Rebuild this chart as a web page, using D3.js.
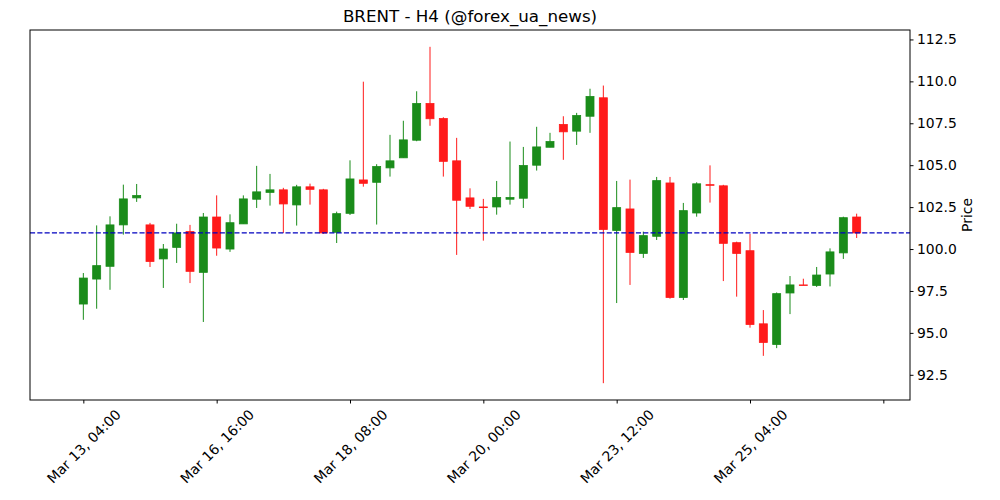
<!DOCTYPE html>
<html>
<head>
<meta charset="utf-8">
<script src="https://cdn.jsdelivr.net/npm/d3@7"></script>
<style>
  body { margin: 0; background: #fff; }
  text { font-family: "DejaVu Sans", sans-serif; }
</style>
</head>
<body>
<script>
// 4H candles, index based x axis
const opens = [96.72, 98.21, 98.97, 101.44, 103.05, 101.44, 99.41, 100.1, 101.04, 98.61,
  101.91, 100.0, 101.5, 102.97, 103.38, 103.53, 102.63, 103.71, 103.53, 101.0,
  102.13, 104.12, 103.98, 104.84, 105.44, 106.49, 108.68, 107.78, 105.26, 103.05,
  102.51, 102.51, 102.97, 103.03, 105.0, 106.07, 107.43, 107.03, 107.92, 109.02,
  101.11, 102.39, 99.74, 100.76, 103.94, 97.11, 102.15, 103.84, 103.77, 100.38,
  99.9, 95.54, 94.31, 97.38, 97.86, 97.83, 98.51, 99.77, 101.91];
const highs = [98.57, 101.41, 101.95, 103.84, 103.88, 101.56, 100.3, 101.51, 101.44, 102.15,
  103.2, 102.07, 103.2, 104.96, 104.48, 103.65, 103.83, 103.9, 103.59, 102.23,
  105.29, 109.98, 105.06, 106.81, 107.65, 109.41, 112.06, 107.86, 106.63, 103.62,
  102.99, 104.06, 106.41, 106.09, 107.29, 106.93, 107.92, 108.12, 109.56, 109.75,
  104.06, 104.14, 101.04, 104.3, 104.3, 102.75, 103.98, 104.99, 103.83, 100.44,
  100.9, 96.36, 97.41, 98.39, 98.23, 98.93, 100.04, 101.93, 102.11];
const lows = [95.78, 96.44, 97.57, 100.86, 102.81, 98.93, 97.68, 99.17, 97.97, 95.65,
  99.6, 99.83, 101.5, 102.45, 102.59, 100.96, 101.4, 102.65, 100.9, 100.36,
  102.03, 103.72, 101.46, 104.32, 105.44, 106.43, 107.35, 104.32, 99.65, 102.39,
  100.5, 102.05, 102.65, 102.45, 104.68, 106.07, 105.32, 106.21, 106.93, 92.0,
  96.78, 97.86, 99.47, 100.54, 97.04, 96.96, 101.93, 102.77, 98.09, 97.16,
  95.31, 93.63, 94.09, 96.12, 97.84, 97.74, 97.77, 99.41, 100.66];
const closes = [98.27, 99.01, 101.44, 102.99, 103.19, 99.26, 100.0, 100.96, 98.67, 101.91,
  100.06, 101.57, 102.99, 103.41, 103.53, 102.69, 103.71, 103.56, 100.96, 102.11,
  104.18, 103.92, 104.92, 105.26, 106.51, 108.68, 107.77, 105.23, 102.91, 102.55,
  102.47, 103.07, 103.07, 104.98, 106.09, 106.41, 106.99, 107.96, 109.1, 101.17,
  102.47, 99.8, 100.8, 104.08, 97.11, 102.29, 103.89, 103.8, 100.34, 99.74,
  95.5, 94.43, 97.34, 97.86, 97.84, 98.45, 99.83, 101.87, 100.96];

const tickPos = [0, 10, 20, 30, 40, 50, 60];
const tickLabels = ["Mar 13, 04:00", "Mar 16, 16:00", "Mar 18, 08:00", "Mar 20, 00:00",
  "Mar 23, 12:00", "Mar 25, 04:00", ""];
const yTicks = [92.5, 95.0, 97.5, 100.0, 102.5, 105.0, 107.5, 110.0, 112.5];

const title = "BRENT - H4 (@forex_ua_news)";

const width = 1000, height = 500;
const margin = {top: 30, right: 90, bottom: 100, left: 30};

const candles = opens.map((o, i) => ({i: i, o: o, h: highs[i], l: lows[i], c: closes[i]}));

const svg = d3.select("body").append("svg")
    .attr("width", width)
    .attr("height", height);

const x = d3.scaleLinear()
    .domain([-4, 62])
    .range([margin.left, width - margin.right]);

const lo = d3.min(lows), hi = d3.max(highs);
const pad = (hi - lo) * 0.05;
const y = d3.scaleLinear()
    .domain([lo - pad, hi + pad])
    .range([height - margin.bottom, margin.top]);

const up = "#1a8c1a", down = "#ff1a1a";
const bw = x(0.6) - x(0);

// wicks
svg.append("g").selectAll("line")
    .data(candles)
    .enter().append("line")
    .attr("x1", d => x(d.i)).attr("x2", d => x(d.i))
    .attr("y1", d => y(d.h)).attr("y2", d => y(d.l))
    .attr("stroke", d => d.c >= d.o ? up : down)
    .attr("stroke-width", 1);

// bodies
svg.append("g").selectAll("rect")
    .data(candles)
    .enter().append("rect")
    .attr("x", d => x(d.i) - bw / 2)
    .attr("width", bw)
    .attr("y", d => y(Math.max(d.o, d.c)))
    .attr("height", d => Math.max(0.6, Math.abs(y(d.o) - y(d.c))))
    .attr("fill", d => d.c >= d.o ? up : down)
    .attr("stroke", d => d.c >= d.o ? up : down)
    .attr("stroke-width", 0.8);

// last close line
const last = closes[closes.length - 1];
svg.append("line")
    .attr("x1", margin.left).attr("x2", width - margin.right)
    .attr("y1", y(last)).attr("y2", y(last))
    .attr("stroke", "#0000c0")
    .attr("stroke-width", 1.2)
    .attr("stroke-dasharray", "5.1,2.2");

// frame
svg.append("rect")
    .attr("x", margin.left).attr("y", margin.top)
    .attr("width", width - margin.left - margin.right)
    .attr("height", height - margin.top - margin.bottom)
    .attr("fill", "none")
    .attr("stroke", "#000")
    .attr("stroke-width", 1);

// y axis on the right
const yAxis = svg.append("g")
    .attr("transform", `translate(${width - margin.right},0)`)
    .call(d3.axisRight(y).tickValues(yTicks).tickFormat(d3.format(".1f")).tickSize(3.5).tickPadding(3.5));
yAxis.select(".domain").remove();
yAxis.selectAll("text").attr("font-size", "13.9px").attr("font-family", "DejaVu Sans").attr("fill", "#000");

// x axis
const xAxis = svg.append("g")
    .attr("transform", `translate(0,${height - margin.bottom})`)
    .call(d3.axisBottom(x).tickValues(tickPos).tickFormat((d, k) => tickLabels[k]).tickSize(3.5));
xAxis.select(".domain").remove();
xAxis.selectAll("text")
    .attr("font-size", "13.9px")
    .attr("font-family", "DejaVu Sans")
    .attr("fill", "#000")
    .attr("text-anchor", "middle")
    .attr("dominant-baseline", "central")
    .attr("y", 0).attr("dy", 0)
    .attr("transform", function () {
        const w = this.getComputedTextLength();
        const h = (w + 14) * Math.SQRT1_2;
        return `translate(0,${7 + h / 2}) rotate(-45)`;
    });

// title + y label
svg.append("text")
    .attr("x", (margin.left + width - margin.right) / 2)
    .attr("y", 22)
    .attr("text-anchor", "middle")
    .attr("font-size", "16.7px")
    .text(title);

svg.append("text")
    .attr("transform", `translate(972,${(margin.top + height - margin.bottom) / 2}) rotate(-90)`)
    .attr("text-anchor", "middle")
    .attr("font-size", "13.9px")
    .text("Price");
</script>
</body>
</html>
